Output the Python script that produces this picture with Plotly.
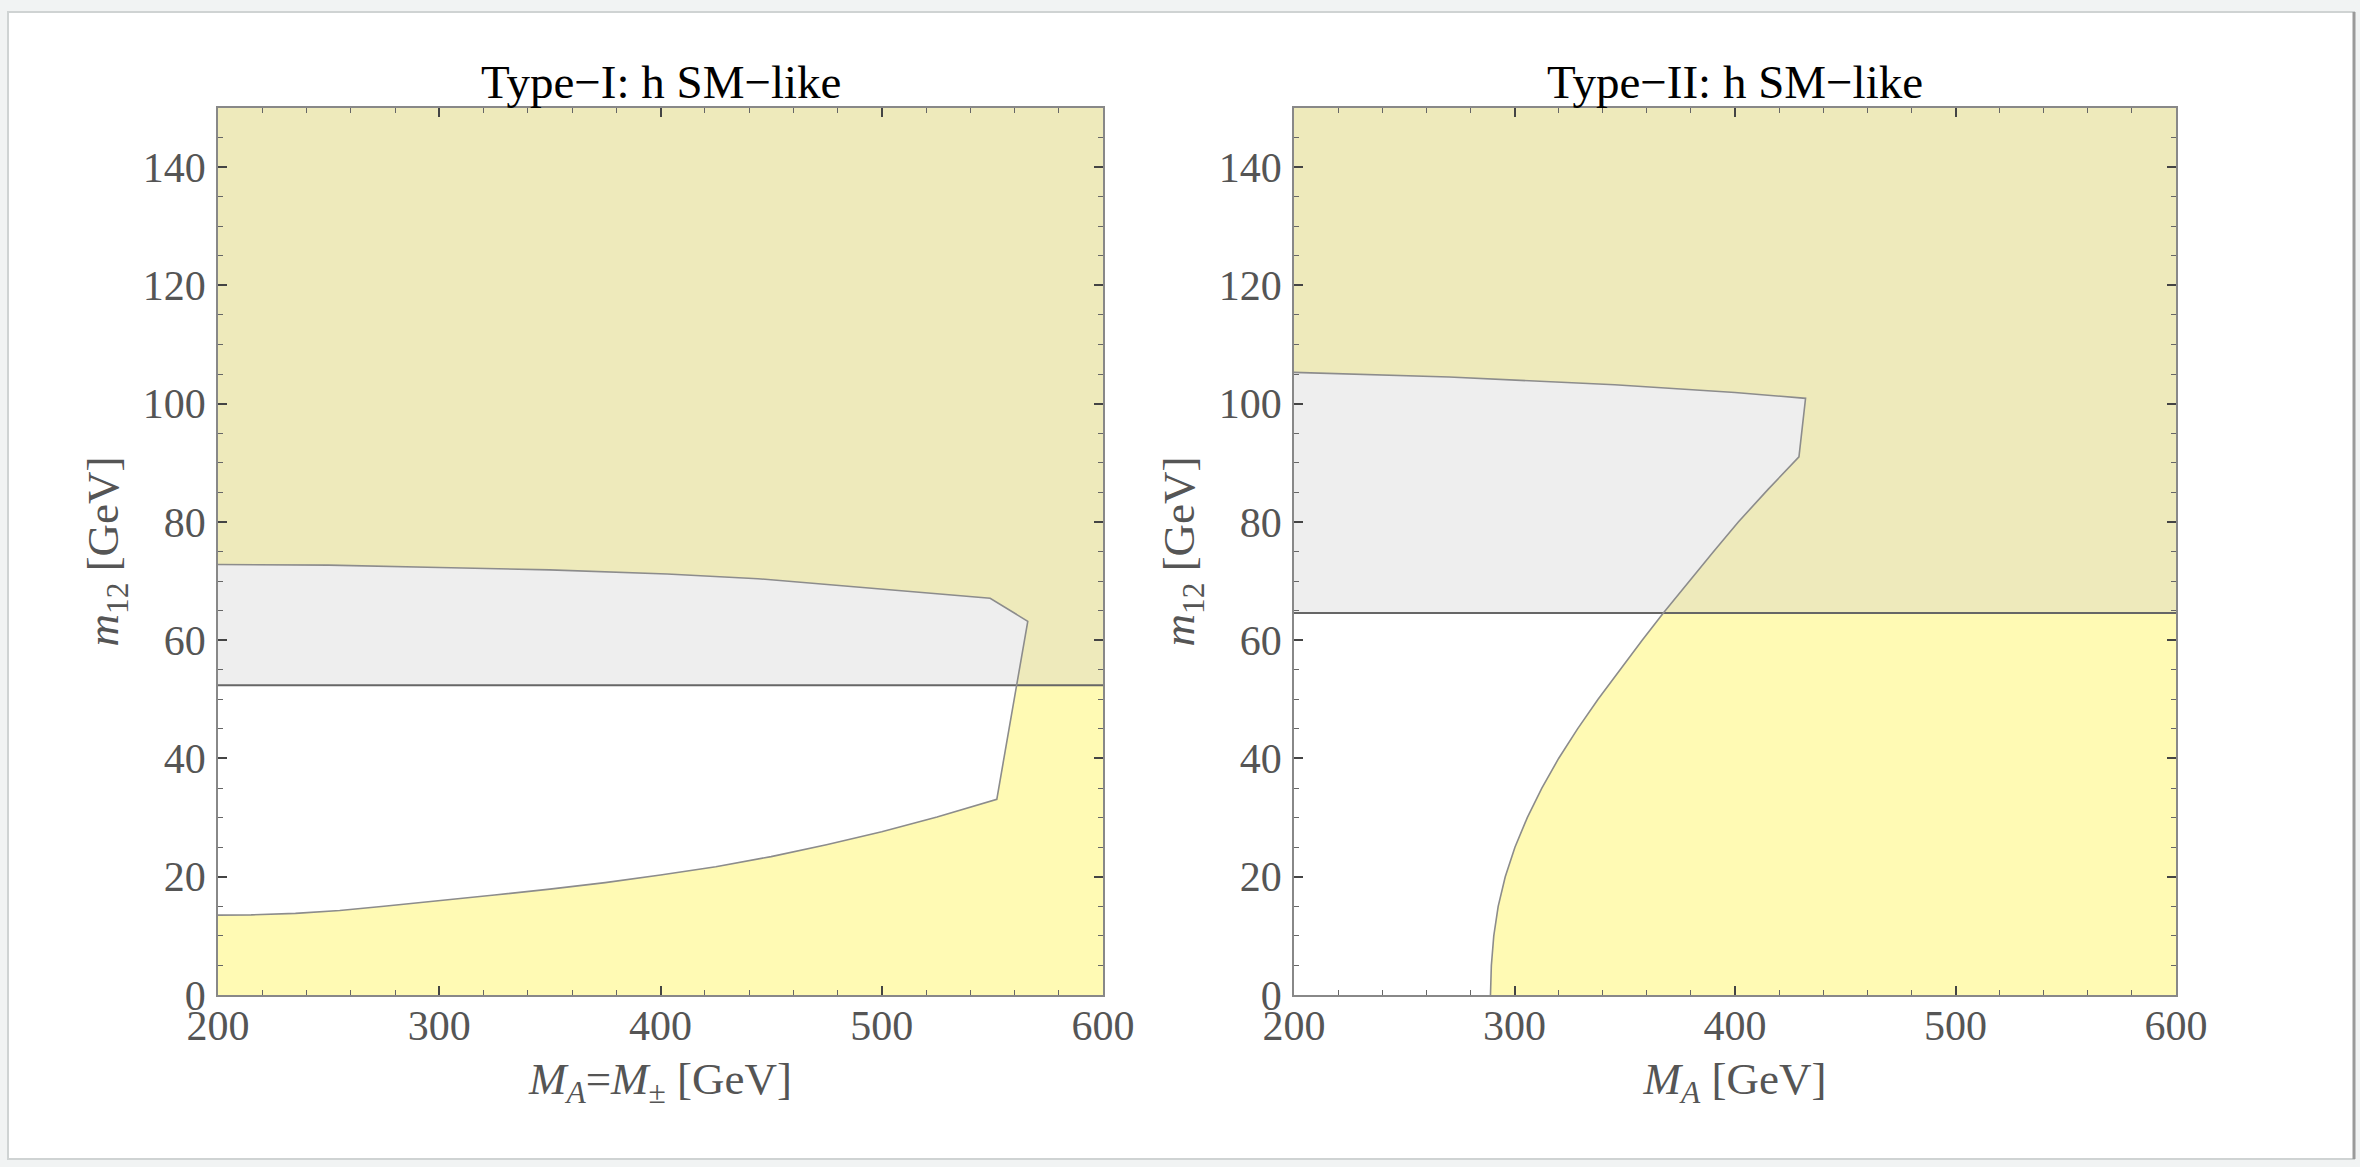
import plotly.graph_objects as go

# ---------------- data ----------------
X_RANGE = [200, 600]
Y_RANGE = [0, 150]
X_TICKS = [200, 300, 400, 500, 600]
Y_TICKS = [0, 20, 40, 60, 80, 100, 120, 140]

TITLES = ["Type−I: h SM−like", "Type−II: h SM−like"]
X_TITLES = ["<i>M</i><sub><i>A</i></sub>=<i>M</i><sub>±</sub> [GeV]", "<i>M</i><sub><i>A</i></sub> [GeV]"]
Y_TITLE = "<i>m</i><sub>12</sub> [GeV]"

# Type-I allowed-region boundary (open curve, starts and ends on the left frame)
LEFT_CURVE_X = [200, 215, 235, 255, 275, 300, 325, 350, 375, 400, 425, 450, 475, 500, 525, 552,
                566, 549, 527, 486, 444, 403, 350, 300, 250, 200]
LEFT_CURVE_Y = [13.5, 13.55, 13.8, 14.3, 15.0, 15.9, 16.9, 17.9, 19.0, 20.3, 21.7, 23.4, 25.4, 27.6, 30.1, 33.1,
                63.2, 67.1, 67.8, 69.1, 70.4, 71.2, 71.9, 72.3, 72.7, 72.8]
LEFT_HLINE = 52.4

# Type-II allowed-region boundary (starts on the bottom frame, ends on the left frame)
RIGHT_CURVE_X = [289.1, 289.5, 290.6, 292.6, 295.8, 300.2, 305.8, 312.4, 320.0, 328.6, 337.9,
                 347.7, 357.9, 367.5, 379.2, 390.3, 401.5, 415.0, 429.0,
                 432.0, 400.0, 345.4, 270.4, 200.0]
RIGHT_CURVE_Y = [0.0, 5.0, 10.0, 15.0, 20.0, 25.0, 30.0, 35.0, 40.0, 45.0, 50.0,
                 55.0, 60.0, 64.6, 70.0, 75.0, 80.0, 85.5, 91.0,
                 100.9, 101.9, 103.2, 104.5, 105.3]
RIGHT_HLINE = 64.6

# ---------------- style ----------------
YELLOW = "#FFFAB4"
OVERLAY = "rgba(202,202,202,0.32)"
CURVE_COLOR = "#8c8c8c"
HLINE_COLOR = "#666666"
FONT = "Liberation Serif"
TICK_COLOR = "#555555"

W, H = 2360, 1167
ML, MR, MT, MB = 218, 184, 108, 172
PW = W - ML - MR
PH = H - MT - MB
left_dom = [0, (1103 - ML) / PW]
right_dom = [(1294 - ML) / PW, 1]

fig = go.Figure()


def add_panel(xref, yref, poly_x, poly_y, curve_x, curve_y, hline):
    # excluded region (yellow) over the whole frame
    fig.add_trace(go.Scatter(x=[X_RANGE[0], X_RANGE[1], X_RANGE[1], X_RANGE[0]],
                             y=[Y_RANGE[0], Y_RANGE[0], Y_RANGE[1], Y_RANGE[1]],
                             xaxis=xref, yaxis=yref, fill="toself", fillcolor=YELLOW,
                             mode="lines", line=dict(width=0), hoverinfo="skip", showlegend=False))
    # allowed region (white)
    fig.add_trace(go.Scatter(x=poly_x, y=poly_y, xaxis=xref, yaxis=yref, fill="toself",
                             fillcolor="white", mode="lines", line=dict(width=0),
                             hoverinfo="skip", showlegend=False))
    # grey overlay above the horizontal bound
    fig.add_trace(go.Scatter(x=[X_RANGE[0], X_RANGE[1], X_RANGE[1], X_RANGE[0]],
                             y=[hline, hline, Y_RANGE[1], Y_RANGE[1]],
                             xaxis=xref, yaxis=yref, fill="toself", fillcolor=OVERLAY,
                             mode="lines", line=dict(width=0), hoverinfo="skip", showlegend=False))
    # horizontal bound
    fig.add_trace(go.Scatter(x=X_RANGE, y=[hline, hline], xaxis=xref, yaxis=yref, mode="lines",
                             line=dict(color=HLINE_COLOR, width=2), hoverinfo="skip", showlegend=False))
    # boundary curve
    fig.add_trace(go.Scatter(x=curve_x, y=curve_y, xaxis=xref, yaxis=yref, mode="lines",
                             line=dict(color=CURVE_COLOR, width=1.6), hoverinfo="skip", showlegend=False))


add_panel("x", "y", LEFT_CURVE_X, LEFT_CURVE_Y, LEFT_CURVE_X, LEFT_CURVE_Y, LEFT_HLINE)
add_panel("x2", "y2", [X_RANGE[0]] + RIGHT_CURVE_X, [Y_RANGE[0]] + RIGHT_CURVE_Y,
          RIGHT_CURVE_X, RIGHT_CURVE_Y, RIGHT_HLINE)

tickfont = dict(family=FONT, size=42, color=TICK_COLOR)


def xaxis(dom, title, anchor):
    return dict(domain=dom, anchor=anchor, range=X_RANGE, tickvals=X_TICKS, ticks="inside",
                ticklen=9, tickwidth=1.5, tickcolor="#444", showline=True, linecolor="#888",
                linewidth=1.5, mirror="ticks", showgrid=False, zeroline=False, tickfont=tickfont,
                ticklabelstandoff=-7,
                minor=dict(dtick=20, ticks="inside", ticklen=5, tickwidth=1.2, tickcolor="#666",
                           showgrid=False),
                title=dict(text=title, font=dict(family=FONT, size=45, color=TICK_COLOR), standoff=14),
                fixedrange=True)


def yaxis(anchor):
    return dict(domain=[0, 1], anchor=anchor, range=Y_RANGE, tickvals=Y_TICKS, ticks="inside",
                ticklen=9, tickwidth=1.5, tickcolor="#444", showline=True, linecolor="#888",
                linewidth=1.5, mirror="ticks", showgrid=False, zeroline=False, tickfont=tickfont,
                minor=dict(dtick=5, ticks="inside", ticklen=5, tickwidth=1.2, tickcolor="#666",
                           showgrid=False),
                ticklabelstandoff=2,
                title=dict(text=Y_TITLE, font=dict(family=FONT, size=45, color=TICK_COLOR), standoff=10),
                fixedrange=True)


annotations = []
for dom, t in zip([left_dom, right_dom], TITLES):
    annotations.append(dict(text=t, x=(dom[0] + dom[1]) / 2, y=1, xref="paper", yref="paper",
                            xanchor="center", yanchor="bottom", yshift=-2, showarrow=False,
                            font=dict(family=FONT, size=47, color="black")))

# outer window frame
fx0 = (8 - ML) / PW
fx1 = (2354 - ML) / PW
fy1 = (H - MB - 12) / PH
fy0 = (H - MB - 1159) / PH
shapes = [dict(type="rect", xref="paper", yref="paper", x0=fx0, x1=fx1, y0=fy0, y1=fy1,
               fillcolor="white", line=dict(color="#cfd3d3", width=2), layer="below"),
          dict(type="line", xref="paper", yref="paper", x0=fx1, x1=fx1, y0=fy0, y1=fy1,
               line=dict(color="#9a9a9a", width=3), layer="below")]

fig.update_layout(
    width=W, height=H, margin=dict(l=ML, r=MR, t=MT, b=MB),
    paper_bgcolor="#f1f3f3", plot_bgcolor="white",
    xaxis=xaxis(left_dom, X_TITLES[0], "y"),
    yaxis=yaxis("x"),
    xaxis2=xaxis(right_dom, X_TITLES[1], "y2"),
    yaxis2=yaxis("x2"),
    annotations=annotations, shapes=shapes, showlegend=False,
)

fig.write_html("out.html")
